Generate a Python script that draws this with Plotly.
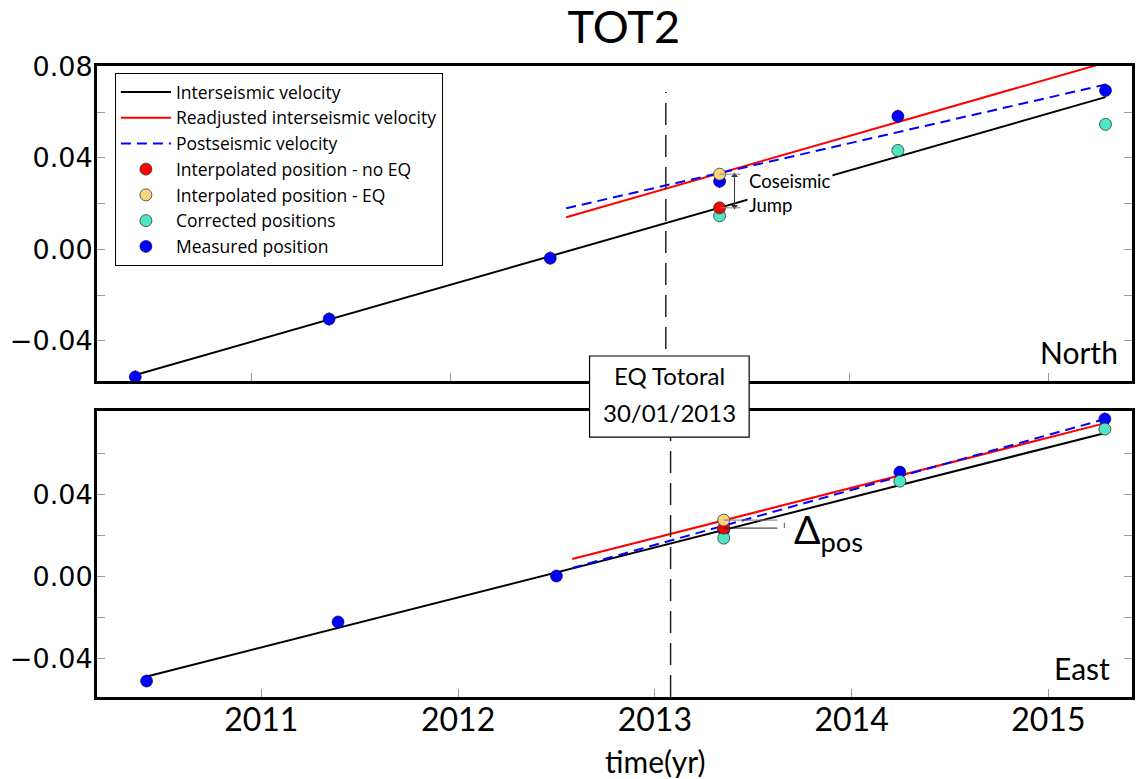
import plotly.graph_objects as go

# ---------------- data ----------------
times = [2010.417, 2011.39, 2012.50, 2013.35, 2014.245, 2015.287]
t_post = [2013.35, 2014.245, 2015.287]
t_interp = [2013.35]
eq_time = 2013.08

# North component
north_measured = [-0.0557, -0.0304, -0.0038, 0.0298, 0.0582, 0.0695]
north_err = [0.003, 0.003, 0.003, 0.003, 0.003, 0.003]
north_corrected = [0.0147, 0.0433, 0.0547]
north_interp_noeq = [0.0182]
north_interp_eq = [0.0329]
north_inter_t = [2010.417, 2015.287]
north_inter_v = [-0.0549, 0.0666]
north_readj_t = [2012.58, 2015.287]
north_readj_v = [0.0141, 0.0817]
north_post_t = [2012.58, 2015.287]
north_post_v = [0.0180, 0.0721]

# East component
east_measured = [-0.0512, -0.0224, 0.0000, 0.0226, 0.0507, 0.0766]
east_err = [0.003, 0.003, 0.003, 0.003, 0.003, 0.003]
east_corrected = [0.0185, 0.0463, 0.0717]
east_interp_noeq = [0.0234]
east_interp_eq = [0.0273]
east_inter_t = [2010.418, 2015.289]
east_inter_v = [-0.0490, 0.0698]
east_readj_t = [2012.58, 2015.289]
east_readj_v = [0.0083, 0.0746]
east_post_t = [2012.58, 2015.289]
east_post_v = [0.0039, 0.0766]

year_ticks = [2011, 2012, 2013, 2014, 2015]
year_labels = ["2011", "2012", "2013", "2014", "2015"]
y_tickvals = [-0.04, -0.02, 0.0, 0.02, 0.04, 0.06, 0.08]
y_ticktext = ["\u22120.04", "", "0.00", "", "0.04", "", "0.08"]
y2_tickvals = [-0.04, -0.02, 0.0, 0.02, 0.04, 0.06]
y2_ticktext = ["\u22120.04", "", "0.00", "", "0.04", ""]

# ---------------- style ----------------
TXT = "Lato"
LEG = "Open Sans"
NUM = "DejaVu Sans"
C_BLUE = "#0000ff"
C_RED = "#ff0000"
C_YEL = "#f8d67e"
C_CYAN = "#4fe6c4"
MS = 12

fig = go.Figure()


def add_panel(xa, ya, inter_t, inter_v, readj_t, readj_v, post_t, post_v,
              measured, err, corrected, noeq, eq, show):
    fig.add_trace(go.Scatter(x=inter_t, y=inter_v, mode="lines", xaxis=xa, yaxis=ya,
                             line=dict(color="black", width=2), name="Interseismic velocity",
                             legendrank=1, showlegend=show))
    fig.add_trace(go.Scatter(x=readj_t, y=readj_v, mode="lines", xaxis=xa, yaxis=ya,
                             line=dict(color=C_RED, width=2), name="Readjusted interseismic velocity",
                             legendrank=2, showlegend=show))
    fig.add_trace(go.Scatter(x=post_t, y=post_v, mode="lines", xaxis=xa, yaxis=ya,
                             line=dict(color=C_BLUE, width=2, dash="10px,6px"),
                             name="Postseismic velocity", legendrank=3, showlegend=show))
    fig.add_trace(go.Scatter(x=times, y=measured, mode="markers", xaxis=xa, yaxis=ya,
                             error_y=dict(type="data", array=err, color=C_RED, thickness=1, width=0),
                             marker=dict(color=C_BLUE, size=MS, line=dict(color="#000033", width=0.6)),
                             name="Measured position", legendrank=7, showlegend=show))
    fig.add_trace(go.Scatter(x=t_post, y=corrected, mode="markers", xaxis=xa, yaxis=ya,
                             marker=dict(color=C_CYAN, size=MS, line=dict(color="#333", width=0.8)),
                             name="Corrected positions", legendrank=6, showlegend=show))
    fig.add_trace(go.Scatter(x=t_interp, y=noeq, mode="markers", xaxis=xa, yaxis=ya,
                             marker=dict(color=C_RED, size=MS, line=dict(color="#333", width=0.8)),
                             name="Interpolated position - no EQ", legendrank=4, showlegend=show))
    fig.add_trace(go.Scatter(x=t_interp, y=eq, mode="markers", xaxis=xa, yaxis=ya,
                             marker=dict(color=C_YEL, size=MS, line=dict(color="#333", width=0.8)),
                             name="Interpolated position - EQ", legendrank=5, showlegend=show))


add_panel("x", "y", north_inter_t, north_inter_v, north_readj_t, north_readj_v,
          north_post_t, north_post_v, north_measured, north_err, north_corrected,
          north_interp_noeq, north_interp_eq, True)
add_panel("x2", "y2", east_inter_t, east_inter_v, east_readj_t, east_readj_v,
          east_post_t, east_post_v, east_measured, east_err, east_corrected,
          east_interp_noeq, east_interp_eq, False)

x_top_range = [2010.225, 2015.42]
x_bot_range = [2010.165, 2015.425]
y_top_range = [-0.0575, 0.0802]
y_bot_range = [-0.059, 0.0805]

axis_common = dict(showline=True, linecolor="black", linewidth=3, showgrid=False,
                   zeroline=False, ticks="inside", ticklen=8, tickwidth=1,
                   tickcolor="#9a9a9a")

fig.update_layout(
    xaxis=dict(domain=[0, 1], range=x_top_range, anchor="y", tickmode="array",
               tickvals=year_ticks, showticklabels=False, mirror=True, **axis_common),
    yaxis=dict(domain=[0.5008, 1], range=y_top_range, anchor="x", tickmode="array",
               tickvals=y_tickvals, ticktext=y_ticktext, mirror="ticks", ticklabelstandoff=-4,
               tickfont=dict(family=NUM, size=27, color="black"), **axis_common),
    xaxis2=dict(domain=[0, 1], range=x_bot_range, anchor="y2", tickmode="array",
                tickvals=year_ticks, ticktext=year_labels, mirror=True, ticklabelstandoff=-7,
                tickfont=dict(family=TXT, size=32, color="black"), **axis_common),
    yaxis2=dict(domain=[0, 0.4532], range=y_bot_range, anchor="x2", tickmode="array",
                tickvals=y2_tickvals, ticktext=y2_ticktext, mirror="ticks", ticklabelstandoff=-4,
                tickfont=dict(family=NUM, size=27, color="black"), **axis_common),
)

# EQ reference dashed lines
fig.add_shape(type="line", xref="x", yref="y", x0=eq_time, x1=eq_time, y0=y_top_range[0],
              y1=0.0688, line=dict(color="#222", width=1.5, dash="22px,10px"), layer="above")
fig.add_shape(type="line", xref="x2", yref="y2", x0=eq_time, x1=eq_time, y0=y_bot_range[0],
              y1=y_bot_range[1], line=dict(color="#222", width=1.5, dash="22px,10px"), layer="above")

# Coseismic jump markers (North)
t0 = t_interp[0]
for v in (north_interp_eq[0], north_interp_noeq[0]):
    fig.add_shape(type="line", xref="x", yref="y", x0=t0, x1=t0 + 0.105, y0=v, y1=v,
                  line=dict(color="#888", width=1), layer="above")
t_arrow = t0 + 0.075
fig.add_trace(go.Scatter(x=[t_arrow, t_arrow], y=[north_interp_eq[0] - 0.0006, north_interp_noeq[0] + 0.0006],
                         mode="lines+markers", xaxis="x", yaxis="y", showlegend=False,
                         hoverinfo="skip",
                         line=dict(color="#333", width=1),
                         marker=dict(symbol=["triangle-up", "triangle-down"], size=6, color="#333")))
fig.add_annotation(xref="x", yref="y", x=t0 + 0.14, y=0.0246, xanchor="left", yanchor="middle",
                   text="Coseismic<br>Jump", align="left", showarrow=False,
                   bgcolor="white", font=dict(family=TXT, size=18.5, color="black"))

# Delta pos markers (East)
fig.add_shape(type="line", xref="x2", yref="y2", x0=t0, x1=t0 + 0.273, y0=east_interp_eq[0],
              y1=east_interp_eq[0], line=dict(color="#777", width=1), layer="above")
fig.add_shape(type="line", xref="x2", yref="y2", x0=t0, x1=t0 + 0.273, y0=east_interp_noeq[0],
              y1=east_interp_noeq[0], line=dict(color="#222", width=1), layer="above")
fig.add_shape(type="line", xref="x2", yref="y2", x0=t0 + 0.308, x1=t0 + 0.308,
              y0=east_interp_noeq[0], y1=east_interp_eq[0] - 0.0012,
              line=dict(color="#555", width=1), layer="above")
fig.add_annotation(xref="x2", yref="y2", x=t0 + 0.345, y=0.0215, xanchor="left",
                   yanchor="middle", text="\u0394<sub>pos</sub>", showarrow=False,
                   font=dict(family=TXT, size=39, color="black"))

# Panel labels
fig.add_annotation(xref="x domain", yref="y domain", x=0.9885, y=0.092, xanchor="right",
                   yanchor="middle", text="North", showarrow=False,
                   font=dict(family=TXT, size=30, color="black"))
fig.add_annotation(xref="x2 domain", yref="y2 domain", x=0.981, y=0.101, xanchor="right",
                   yanchor="middle", text="East", showarrow=False,
                   font=dict(family=TXT, size=30, color="black"))

# EQ box
fig.add_shape(type="rect", xref="paper", yref="paper", x0=0.4759, x1=0.6301, y0=0.4120,
              y1=0.5404, fillcolor="white", line=dict(color="black", width=1.2), layer="above")
fig.add_annotation(xref="paper", yref="paper", x=0.553, y=0.5103, text="EQ Totoral",
                   showarrow=False, font=dict(family=TXT, size=24, color="black"))
fig.add_annotation(xref="paper", yref="paper", x=0.553, y=0.4501, text="30/01/2013",
                   showarrow=False, font=dict(family=TXT, size=24, color="black"))

# x axis title
fig.add_annotation(xref="paper", yref="paper", x=0.5395, y=-0.1014, text="time(yr)",
                   showarrow=False, yanchor="middle",
                   font=dict(family=TXT, size=30, color="black"))

fig.update_layout(
    width=1136, height=779,
    margin=dict(l=97, r=1, t=66, b=82),
    paper_bgcolor="white", plot_bgcolor="white",
    title=dict(text="TOT2", x=0.509, xref="paper", y=1 - 27 / 779, yref="container",
               xanchor="center", yanchor="middle",
               font=dict(family=TXT, size=45, color="black")),
    showlegend=True,
    legend=dict(x=0.0173, y=0.9889, xanchor="left", yanchor="top", bgcolor="white",
                bordercolor="black", borderwidth=1, itemwidth=50,
                font=dict(family=LEG, size=17.5, color="black"), traceorder="normal"),
)

fig.write_html("out.html", config={"displayModeBar": False},
               post_script="document.body.style.margin='0';")
